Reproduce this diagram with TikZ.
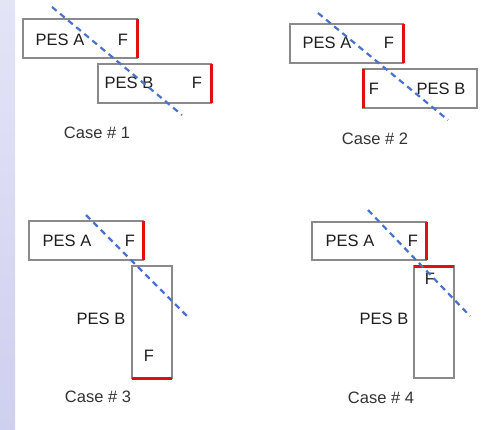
\documentclass[tikz,border=0pt]{standalone}
\usepackage{fontspec}
\setmainfont{Liberation Sans}
\definecolor{boxgray}{HTML}{8A8A8A}
\definecolor{redline}{HTML}{E01010}
\definecolor{blueline}{HTML}{4A72CC}
\definecolor{txt}{HTML}{1E1E1E}
\definecolor{captxt}{HTML}{333333}
\definecolor{striptop}{HTML}{E4E4F7}
\definecolor{stripbot}{HTML}{CFCFEF}
\begin{document}
\begin{tikzpicture}[x=1pt,y=-1pt,
  pesbox/.style={draw=boxgray, line width=1.3pt, inner sep=0pt, outer sep=0pt, fill=white},
  lbl/.style={text=txt, font=\fontsize{16.5}{19}\selectfont, inner sep=0pt},
  caption/.style={text=captxt, font=\fontsize{16.5}{19}\selectfont, inner sep=0pt},
  fedge/.style={draw=redline, line width=3pt},
  cutline/.style={draw=blueline, line width=2.2pt, dash pattern=on 6pt off 4.5pt}]
\useasboundingbox (0,0) rectangle (495,429);
\shade[top color=striptop, bottom color=stripbot] (0,0) rectangle (15,429);

% Case 1
\node[pesbox, minimum width=114pt, minimum height=39pt] (a1) at (80,38.5) {};
\node[pesbox, minimum width=113pt, minimum height=39pt] (b1) at (154.5,83.5) {};
\draw[fedge] (a1.north east) -- (a1.south east);
\draw[fedge] (b1.north east) -- (b1.south east);
\node[lbl] (a1t) at (60,40) {PES A};
\node[lbl] (a1f) at (123,40) {F};
\node[lbl] (b1t) at (129,83) {PES B};
\node[lbl] (b1f) at (197,83) {F};
\coordinate (c1s) at (52,7);
\coordinate (c1e) at (182,115);
\draw[cutline] (c1s) -- (c1e);
\node[caption] (cap1) at (97,133) {Case \# 1};

% Case 2
\node[pesbox, minimum width=113pt, minimum height=39pt] (a2) at (346.5,43.5) {};
\node[pesbox, minimum width=114pt, minimum height=39pt] (b2) at (420,88.5) {};
\draw[fedge] (a2.north east) -- (a2.south east);
\draw[fedge] (b2.north west) -- (b2.south west);
\node[lbl] (a2t) at (327,43) {PES A};
\node[lbl] (a2f) at (389,43) {F};
\node[lbl] (b2f) at (374,89) {F};
\node[lbl] (b2t) at (441,89) {PES B};
\coordinate (c2s) at (318,13);
\coordinate (c2e) at (448,120);
\draw[cutline] (c2s) -- (c2e);
\node[caption] (cap2) at (375,139) {Case \# 2};

% Case 3
\node[pesbox, minimum width=114pt, minimum height=39pt] (a3) at (86,240.5) {};
\node[pesbox, minimum width=40pt, minimum height=112pt] (b3) at (152,322) {};
\draw[fedge] (a3.north east) -- (a3.south east);
\draw[fedge] (b3.south west) -- (b3.south east);
\node[lbl] (a3t) at (67,241) {PES A};
\node[lbl] (a3f) at (130,241) {F};
\node[lbl] (b3t) at (101,319) {PES B};
\node[lbl] (b3f) at (149,356) {F};
\coordinate (c3s) at (86,215);
\coordinate (c3e) at (188,317);
\draw[cutline] (c3s) -- (c3e);
\node[caption] (cap3) at (98,397) {Case \# 3};

% Case 4
\node[pesbox, minimum width=114pt, minimum height=38pt] (a4) at (369,241) {};
\node[pesbox, minimum width=40pt, minimum height=112pt] (b4) at (434,322) {};
\draw[fedge] (a4.north east) -- (a4.south east);
\draw[fedge] (b4.north west) -- (b4.north east);
\node[lbl] (a4t) at (350,241) {PES A};
\node[lbl] (a4f) at (413,241) {F};
\node[lbl] (b4f) at (430,279) {F};
\node[lbl] (b4t) at (384,319) {PES B};
\coordinate (c4s) at (368,210);
\coordinate (c4e) at (470,316);
\draw[cutline] (c4s) -- (c4e);
\node[caption] (cap4) at (381,398) {Case \# 4};
\end{tikzpicture}
\end{document}
